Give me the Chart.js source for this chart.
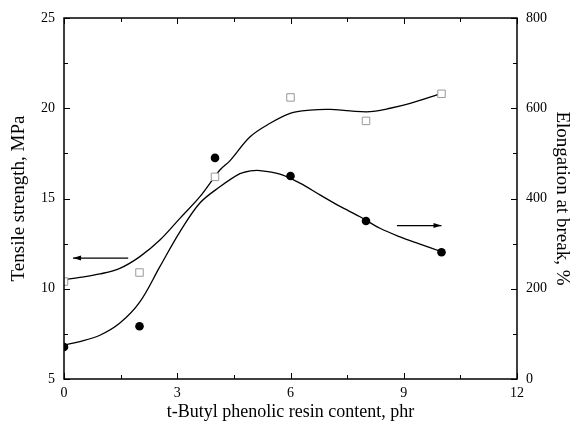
<!DOCTYPE html>
<html>
<head>
<meta charset="utf-8">
<script src="https://cdn.jsdelivr.net/npm/chart.js@4.4.1/dist/chart.umd.min.js"></script>
<style>
html,body{margin:0;padding:0;background:#fff;}
#wrap{width:571px;height:423px;}
</style>
</head>
<body>
<div id="wrap"><canvas id="c" width="571" height="423"></canvas></div>
<script>
// measured points
const contentPhr = [0, 2, 4, 6, 8, 10];
const tensileMPa = [10.4, 10.9, 16.2, 20.6, 19.3, 20.8];
const elongationPct = [71, 117, 490, 450, 350, 281];

// fitted curves
const tensileFitX = [0, 0.42, 0.95, 1.48, 2.01, 2.54, 3.07, 3.60, 4.13, 4.40, 4.93, 5.46, 5.99, 6.52, 7.05, 7.58, 8.11, 8.64, 9.17, 10.0];
const tensileFitY = [10.5, 10.63, 10.82, 11.13, 11.78, 12.70, 13.90, 15.10, 16.58, 17.10, 18.42, 19.17, 19.72, 19.90, 19.94, 19.85, 19.81, 20.0, 20.27, 20.83];
const elongFitX = [0, 0.42, 0.95, 1.48, 2.01, 2.54, 3.07, 3.60, 4.13, 4.66, 4.93, 5.19, 5.72, 6.25, 6.78, 7.30, 7.83, 8.37, 8.90, 9.43, 10.0];
const elongFitY = [75, 83, 97, 124, 171, 249, 326, 390, 426, 455, 461, 462, 454, 434, 408, 383, 360, 334, 315, 299, 282];

// arrows (start -> end)
const leftArrowX = [1.7, 0.24];
const leftArrowY = [11.7, 11.7];
const rightArrowX = [8.82, 10.0];
const rightArrowY = [340, 340];

// axis ticks
const xTickLabels = [0, 3, 6, 9, 12];
const yLeftTickLabels = [5, 10, 15, 20, 25];
const yRightTickLabels = [0, 200, 400, 600, 800];

const pts = (xs, ys) => xs.map((x, i) => ({x: x, y: ys[i]}));

const FONT = "'Liberation Serif', 'Times New Roman', serif";

const framePlugin = {
  id: 'frame',
  afterDraw(chart) {
    const {ctx, chartArea: a, scales} = chart;
    ctx.save();
    ctx.strokeStyle = '#000';
    ctx.lineWidth = 1;
    const drawTicks = (scale, majors, dir) => {
      scale.ticks.forEach(t => {
        const p = Math.round(scale.getPixelForValue(t.value)) + 0.5;
        const major = majors.includes(t.value);
        const len = major ? 6 : 4;
        ctx.beginPath();
        if (dir === 'x') {
          ctx.moveTo(p, a.bottom); ctx.lineTo(p, a.bottom - len);
          ctx.moveTo(p, a.top); ctx.lineTo(p, a.top + len);
        } else if (dir === 'left') {
          ctx.moveTo(a.left, p); ctx.lineTo(a.left + len, p);
        } else {
          ctx.moveTo(a.right, p); ctx.lineTo(a.right - len, p);
        }
        ctx.stroke();
      });
    };
    drawTicks(scales.x, xTickLabels, 'x');
    drawTicks(scales.y, yLeftTickLabels, 'left');
    drawTicks(scales.y2, yRightTickLabels, 'right');
    ctx.lineWidth = 1.5;
    ctx.strokeRect(a.left, a.top, a.right - a.left, a.bottom - a.top);
    ctx.restore();
  },
  afterDatasetsDraw(chart) {
    const {ctx} = chart;
    chart.data.datasets.forEach((ds, i) => {
      if (!ds.arrow) return;
      const meta = chart.getDatasetMeta(i);
      const e = meta.data;
      const p0 = e[e.length - 2], p1 = e[e.length - 1];
      const ang = Math.atan2(p1.y - p0.y, p1.x - p0.x);
      const L = 8, W = 2.5;
      ctx.save();
      ctx.fillStyle = '#000';
      ctx.translate(p1.x, p1.y);
      ctx.rotate(ang);
      ctx.beginPath();
      ctx.moveTo(0, 0);
      ctx.lineTo(-L, -W);
      ctx.lineTo(-L, W);
      ctx.closePath();
      ctx.fill();
      ctx.restore();
    });
  }
};

new Chart(document.getElementById('c'), {
  type: 'scatter',
  data: {
    datasets: [
      {type: 'line', data: pts(tensileFitX, tensileFitY), yAxisID: 'y', borderColor: '#000', borderWidth: 1.3, pointRadius: 0, tension: 0.35, fill: false, order: 5},
      {type: 'line', data: pts(elongFitX, elongFitY), yAxisID: 'y2', borderColor: '#000', borderWidth: 1.3, pointRadius: 0, tension: 0.35, fill: false, order: 5},
      {type: 'line', data: pts(leftArrowX, leftArrowY), yAxisID: 'y', borderColor: '#000', borderWidth: 1.2, pointRadius: 0, arrow: true, order: 5},
      {type: 'line', data: pts(rightArrowX, rightArrowY), yAxisID: 'y2', borderColor: '#000', borderWidth: 1.2, pointRadius: 0, arrow: true, order: 5},
      {label: 'Tensile strength', data: pts(contentPhr, tensileMPa), yAxisID: 'y', pointStyle: 'rect', pointRadius: 5.3, backgroundColor: '#fff', borderColor: '#999', borderWidth: 1, order: 1},
      {label: 'Elongation at break', data: pts(contentPhr, elongationPct), yAxisID: 'y2', pointStyle: 'circle', pointRadius: 4.3, backgroundColor: '#000', borderColor: '#000', borderWidth: 0, order: 1}
    ]
  },
  options: {
    responsive: false,
    animation: false,
    layout: {padding: {top: 18, left: 0, right: 0, bottom: 0}},
    plugins: {legend: {display: false}, tooltip: {enabled: false}},
    scales: {
      x: {
        type: 'linear', position: 'bottom', min: 0, max: 12,
        afterFit: s => { s.height = 44; },
        ticks: {stepSize: 1.5, autoSkip: false, maxRotation: 0, padding: 6, color: '#000', font: {family: FONT, size: 14},
          callback: v => xTickLabels.includes(v) ? String(v) : ''},
        grid: {display: false, drawTicks: false}, border: {display: false},
        title: {display: true, text: 't-Butyl phenolic resin content, phr', color: '#000', font: {family: FONT, size: 18, lineHeight: 1}, padding: {top: 0, bottom: 2}}
      },
      y: {
        type: 'linear', position: 'left', min: 5, max: 25,
        afterFit: s => { s.width = 64; },
        ticks: {stepSize: 2.5, autoSkip: false, padding: 9, color: '#000', font: {family: FONT, size: 14},
          callback: v => yLeftTickLabels.includes(v) ? String(v) : ''},
        grid: {display: false, drawTicks: false}, border: {display: false},
        title: {display: true, text: 'Tensile strength, MPa', color: '#000', font: {family: FONT, size: 19, lineHeight: 1}, padding: {top: 10, bottom: 0}}
      },
      y2: {
        type: 'linear', position: 'right', min: 0, max: 800,
        afterFit: s => { s.width = 54; },
        ticks: {stepSize: 100, autoSkip: false, padding: 9, color: '#000', font: {family: FONT, size: 14},
          callback: v => yRightTickLabels.includes(v) ? String(v) : ''},
        grid: {display: false, drawTicks: false}, border: {display: false},
        title: {display: true, text: 'Elongation at break, %', color: '#000', font: {family: FONT, size: 19, lineHeight: 1}, padding: {top: 0, bottom: 0}}
      }
    }
  },
  plugins: [framePlugin]
});
</script>
</body>
</html>
